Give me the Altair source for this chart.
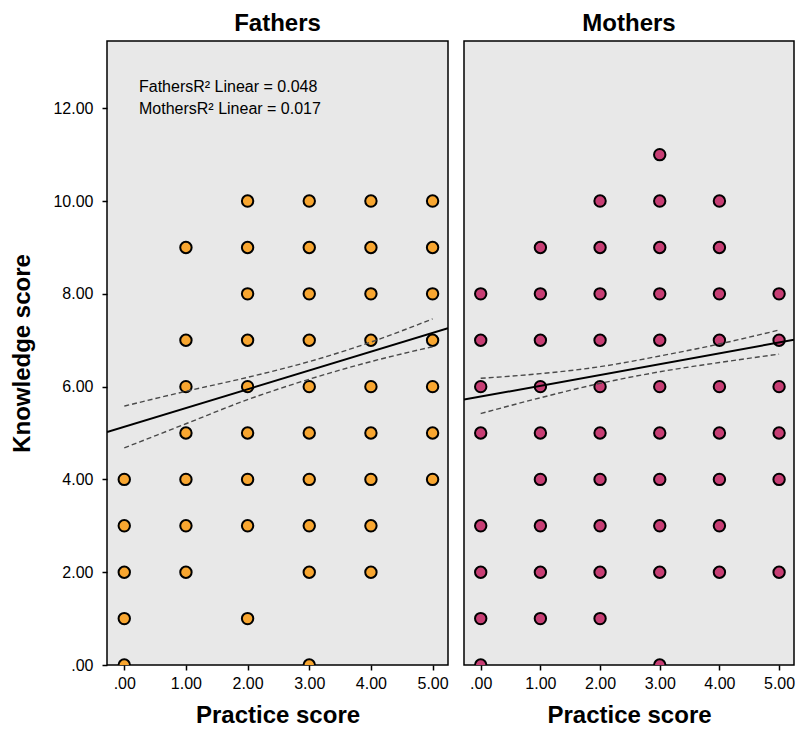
import altair as alt
import pandas as pd

# Knowledge scores observed at each practice score (0..5)
fathers_y_at_0 = [0, 1, 2, 3, 4]
fathers_y_at_1 = [2, 3, 4, 5, 6, 7, 9]
fathers_y_at_2 = [1, 3, 4, 5, 6, 7, 8, 9, 10]
fathers_y_at_3 = [0, 2, 3, 4, 5, 6, 7, 8, 9, 10]
fathers_y_at_4 = [2, 3, 4, 5, 6, 7, 8, 9, 10]
fathers_y_at_5 = [4, 5, 6, 7, 8, 9, 10]

mothers_y_at_0 = [0, 1, 2, 3, 5, 6, 7, 8]
mothers_y_at_1 = [1, 2, 3, 4, 5, 6, 7, 8, 9]
mothers_y_at_2 = [1, 2, 3, 4, 5, 6, 7, 8, 9, 10]
mothers_y_at_3 = [0, 2, 3, 4, 5, 6, 7, 8, 9, 10, 11]
mothers_y_at_4 = [2, 3, 4, 5, 6, 7, 8, 9, 10]
mothers_y_at_5 = [2, 4, 5, 6, 7, 8]

# Fit lines (end points read at the panel edges)
fit_x = [-0.28, 5.25]
fathers_fit_y = [5.02, 7.26]
mothers_fit_y = [5.72, 7.01]

# 95% CI of the mean
ci_x = [0, 1, 2, 3, 4, 5]
fathers_ci_upper = [5.58, 5.90, 6.20, 6.54, 6.96, 7.46]
fathers_ci_lower = [4.68, 5.20, 5.72, 6.16, 6.54, 6.86]
mothers_ci_upper = [6.18, 6.28, 6.43, 6.66, 6.92, 7.22]
mothers_ci_lower = [5.42, 5.76, 6.07, 6.32, 6.52, 6.70]

x_ticks = [0, 1, 2, 3, 4, 5]
y_ticks = [0, 2, 4, 6, 8, 10, 12]
annotation_lines = ["FathersR² Linear = 0.048", "MothersR² Linear = 0.017"]

FONT = "Liberation Sans"
X_DOMAIN = [-0.28, 5.25]
Y_DOMAIN = [0, 13.45]


def points_df(cols):
    rows = []
    for xv, ys in enumerate(cols):
        for yv in ys:
            rows.append({"x": xv, "y": yv})
    return pd.DataFrame(rows)


fathers_pts = points_df([fathers_y_at_0, fathers_y_at_1, fathers_y_at_2,
                         fathers_y_at_3, fathers_y_at_4, fathers_y_at_5])
mothers_pts = points_df([mothers_y_at_0, mothers_y_at_1, mothers_y_at_2,
                         mothers_y_at_3, mothers_y_at_4, mothers_y_at_5])

label_expr = "datum.value == 0 ? '.00' : format(datum.value, '.2f')"


def panel(pts, fit_y, ci_up, ci_lo, color, title, show_y, width, annotate):
    xs = alt.Scale(domain=X_DOMAIN, nice=False, zero=False)
    ys = alt.Scale(domain=Y_DOMAIN, nice=False)
    x_axis = alt.Axis(values=x_ticks, labelExpr=label_expr, title="Practice score")
    if show_y:
        y_axis = alt.Axis(values=y_ticks, labelExpr=label_expr, title="Knowledge score")
    else:
        y_axis = None

    def enc(chart):
        return chart.encode(
            x=alt.X("x:Q", scale=xs, axis=x_axis),
            y=alt.Y("y:Q", scale=ys, axis=y_axis),
        )

    base_pts = enc(alt.Chart(pts).mark_circle(
        size=130, color=color, opacity=1, stroke="black", strokeWidth=2, clip=True
    ))

    fit_df = pd.DataFrame({"x": fit_x, "y": fit_y})
    fit = enc(alt.Chart(fit_df).mark_line(color="black", strokeWidth=2, clip=True))

    ci_df = pd.DataFrame({"x": ci_x * 2,
                          "y": ci_up + ci_lo,
                          "band": ["upper"] * len(ci_x) + ["lower"] * len(ci_x)})
    ci = enc(alt.Chart(ci_df).mark_line(
        color="#4a4a4a", strokeWidth=1.4, strokeDash=[5, 3], interpolate="monotone"
    )).encode(detail="band:N")

    layers = [base_pts, ci, fit]
    if annotate:
        for i, line in enumerate(annotation_lines):
            ann = alt.Chart(pd.DataFrame({"t": [line]})).mark_text(
                align="left", baseline="middle", font=FONT, fontSize=16, color="black"
            ).encode(x=alt.value(32), y=alt.value(46 + 22 * i), text="t:N")
            layers.append(ann)

    return alt.layer(*layers).properties(
        width=width, height=624,
        title=alt.TitleParams(title, fontSize=24, font=FONT, fontWeight="bold",
                              anchor="middle", offset=5, color="black"),
    )


left = panel(fathers_pts, fathers_fit_y, fathers_ci_upper, fathers_ci_lower,
             "#F8A630", "Fathers", True, 341, True)
right = panel(mothers_pts, mothers_fit_y, mothers_ci_upper, mothers_ci_lower,
              "#C73E74", "Mothers", False, 330, False)

chart = alt.hconcat(left, right, spacing=14).properties(
    padding={"left": 2, "top": 3, "right": 0, "bottom": 0},
    background="white",
).configure_view(
    fill="#E8E8E8", stroke="black", strokeWidth=1.5
).configure_axis(
    grid=False, domain=False, tickColor="black", tickSize=5, tickWidth=1.5,
    labelFont=FONT, labelFontSize=16, labelColor="black", labelPadding=4,
    titleFont=FONT, titleFontSize=24, titleFontWeight="bold", titleColor="black",
).configure_axisX(
    labelPadding=5, titlePadding=12
).configure_axisY(
    labelPadding=9, titlePadding=18
)

chart.save("out.html", embed_options={"renderer": "svg", "actions": False})
